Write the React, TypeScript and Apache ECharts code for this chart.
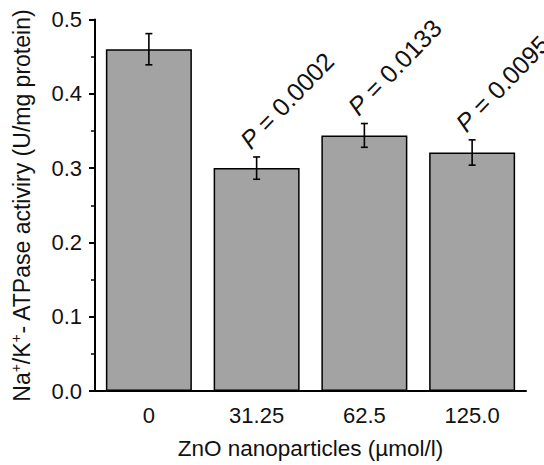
import React, { useEffect, useRef } from "react";
import * as echarts from "echarts";

const categories = ["0", "31.25", "62.5", "125.0"];
const means = [0.46, 0.3, 0.344, 0.321];
const errors = [0.021, 0.015, 0.016, 0.017];
const pValues = ["", "0.0002", "0.0133", "0.0095"];

const FONT = "Liberation Sans, Arial, Helvetica, sans-serif";
const TEXT = "#111";

export default function App() {
  const ref = useRef<HTMLDivElement>(null);
  useEffect(() => {
    document.body.style.margin = "0";
    const chart = echarts.init(ref.current!, undefined, { renderer: "svg" });
    const option: any = {
      animation: false,
      backgroundColor: "#fff",
      grid: { left: 95, right: 18, top: 19.5, bottom: 71 },
      xAxis: {
        type: "category",
        data: categories,
        name: "ZnO nanoparticles (µmol/l)",
        nameLocation: "middle",
        nameGap: 46,
        nameTextStyle: { fontSize: 22.5, fontFamily: FONT, color: TEXT },
        axisLine: { lineStyle: { color: "#000", width: 2 } },
        axisTick: { alignWithLabel: true, length: 7, lineStyle: { color: "#000", width: 2 } },
        axisLabel: { fontSize: 22, fontFamily: FONT, color: TEXT, margin: 13 },
      },
      yAxis: {
        type: "value",
        min: 0,
        max: 0.5,
        interval: 0.1,
        name: "{n|Na}{s|+}{n|/K}{s|+}{n|- ATPase activiry (U/mg protein)}",
        nameLocation: "middle",
        nameGap: 60,
        nameTextStyle: {
          fontSize: 23,
          fontFamily: FONT,
          color: TEXT,
          rich: {
            n: { fontSize: 23, fontFamily: FONT, color: TEXT, lineHeight: 26 },
            s: { fontSize: 14, fontFamily: FONT, color: TEXT, lineHeight: 14, verticalAlign: "top" },
          },
        },
        axisLine: { show: true, lineStyle: { color: "#000", width: 2 } },
        axisTick: { show: true, length: 6, lineStyle: { color: "#000", width: 2 } },
        minorTick: { show: true, splitNumber: 2, length: 4, lineStyle: { color: "#000", width: 1.5 } },
        splitLine: { show: false },
        axisLabel: {
          fontSize: 22,
          fontFamily: FONT,
          color: TEXT,
          margin: 13,
          formatter: (v: number) => v.toFixed(1),
        },
      },
      series: [
        {
          type: "bar",
          data: means,
          barWidth: 86,
          itemStyle: { color: "#a3a3a3", borderColor: "#000", borderWidth: 1.5 },
        },
        {
          type: "custom",
          z: 5,
          data: categories.map((_, i) => [i, means[i], errors[i]]),
          encode: { x: 0, y: 1 },
          renderItem: (params: any, api: any) => {
            const i = api.value(0);
            const m = api.value(1);
            const e = api.value(2);
            const top = api.coord([i, m + e]);
            const bot = api.coord([i, m - e]);
            const cap = 3.5;
            const ls = { stroke: "#000", lineWidth: 1.6 };
            const children: any[] = [
              { type: "line", shape: { x1: top[0], y1: top[1], x2: bot[0], y2: bot[1] }, style: ls },
              { type: "line", shape: { x1: top[0] - cap, y1: top[1], x2: top[0] + cap, y2: top[1] }, style: ls },
              { type: "line", shape: { x1: bot[0] - cap, y1: bot[1], x2: bot[0] + cap, y2: bot[1] }, style: ls },
            ];
            const p = pValues[params.dataIndex];
            if (p) {
              children.push({
                type: "text",
                x: top[0] - 3,
                y: top[1] - 4,
                rotation: (46 * Math.PI) / 180,
                style: {
                  text: `{i|P} = ${p}`,
                  fill: TEXT,
                  fontSize: 25,
                  fontFamily: FONT,
                  align: "left",
                  verticalAlign: "bottom",
                  rich: {
                    i: { fontStyle: "italic", fontSize: 25, fontFamily: FONT, fill: TEXT },
                  },
                },
              });
            }
            return { type: "group", children };
          },
        },
      ],
    };
    chart.setOption(option);
    return () => chart.dispose();
  }, []);
  return (
    <div
      ref={ref}
      style={{ position: "fixed", left: 0, top: 0, width: 544, height: 465 }}
    />
  );
}
